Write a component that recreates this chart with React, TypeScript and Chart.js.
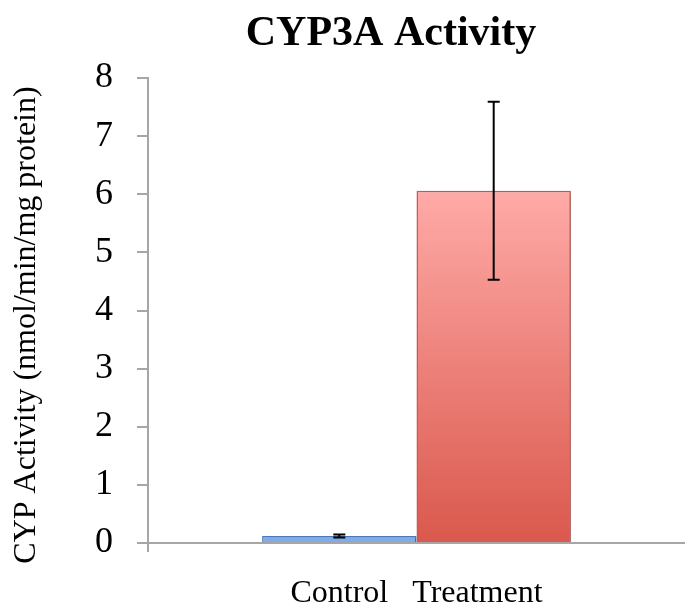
import React, { useEffect, useRef } from "react";
import { Chart, registerables } from "chart.js";
Chart.register(...registerables);

// ---- data ----
const categories = ["Control   Treatment"];
const seriesNames = ["Control", "Treatment"];
const controlValues = [0.12];
const treatmentValues = [6.06];
const controlErrors = [0.025];
const treatmentErrors = [1.53];
const yMin = 0;
const yMax = 8;
const yStep = 1;
const chartTitle = "CYP3A Activity";
const yAxisTitle = "CYP Activity (nmol/min/mg protein)";

const FONT = '"Liberation Serif", "Times New Roman", serif';
const AXIS_GRAY = "#A6A6A6";

export default function App() {
  const canvasRef = useRef<HTMLCanvasElement | null>(null);

  useEffect(() => {
    const canvas = canvasRef.current;
    if (!canvas) return;

    const errorsByDataset = [controlErrors, treatmentErrors];

    const shadowPlugin = {
      id: "barShadow",
      beforeDatasetsDraw(chart: any) {
        const ctx = chart.ctx;
        ctx.save();
        ctx.shadowColor = "rgba(0,0,0,0.28)";
        ctx.shadowBlur = 4;
        ctx.shadowOffsetX = 2;
        ctx.shadowOffsetY = 1;
      },
      afterDatasetsDraw(chart: any) {
        chart.ctx.restore();
      },
    };

    const errorBarPlugin = {
      id: "errorBars",
      afterDraw(chart: any) {
        const ctx = chart.ctx;
        const yScale = chart.scales.y;
        ctx.save();
        ctx.strokeStyle = "#000000";
        ctx.lineWidth = 2;
        chart.data.datasets.forEach((ds: any, di: number) => {
          const meta = chart.getDatasetMeta(di);
          const errs = errorsByDataset[di];
          meta.data.forEach((bar: any, i: number) => {
            const v = ds.data[i];
            const e = errs[i];
            const x = bar.x;
            const yTop = yScale.getPixelForValue(v + e);
            const yBot = yScale.getPixelForValue(v - e);
            const cap = 6;
            ctx.beginPath();
            ctx.moveTo(x, yTop);
            ctx.lineTo(x, yBot);
            ctx.moveTo(x - cap, yTop);
            ctx.lineTo(x + cap, yTop);
            ctx.moveTo(x - cap, yBot);
            ctx.lineTo(x + cap, yBot);
            ctx.stroke();
          });
        });
        ctx.restore();
      },
    };

    const titlesPlugin = {
      id: "offsetTitles",
      afterDraw(chart: any) {
        const ctx = chart.ctx;
        ctx.save();
        ctx.fillStyle = "#000000";
        ctx.font = `bold 42px ${FONT}`;
        ctx.textAlign = "center";
        ctx.textBaseline = "alphabetic";
        ctx.fillText(chartTitle, 391, 45);
        ctx.restore();

        ctx.save();
        ctx.fillStyle = "#000000";
        ctx.font = `32px ${FONT}`;
        ctx.textAlign = "center";
        ctx.textBaseline = "middle";
        ctx.translate(27, 325);
        ctx.rotate(-Math.PI / 2);
        ctx.fillText(yAxisTitle, 0, 0);
        ctx.restore();
      },
    };

    const redGradient = (context: any) => {
      const chart = context.chart;
      const ys = chart.scales && chart.scales.y;
      if (!ys || context.raw === undefined) return "#EE7F77";
      const top = ys.getPixelForValue(context.raw);
      const bottom = ys.getPixelForValue(0);
      if (!isFinite(top) || !isFinite(bottom) || top === bottom) return "#EE7F77";
      const g = chart.ctx.createLinearGradient(0, top, 0, bottom);
      g.addColorStop(0, "#FFAAA7");
      g.addColorStop(1, "#DA584D");
      return g;
    };

    const chart = new Chart(canvas, {
      type: "bar",
      data: {
        labels: categories,
        datasets: [
          {
            label: seriesNames[0],
            data: controlValues,
            backgroundColor: "#80ABE6",
            borderColor: "#4E7EC1",
            borderWidth: 1.5,
            categoryPercentage: 0.575,
            barPercentage: 1,
          },
          {
            label: seriesNames[1],
            data: treatmentValues,
            backgroundColor: redGradient,
            borderColor: "#CD5E58",
            borderWidth: 1.5,
            categoryPercentage: 0.575,
            barPercentage: 1,
          },
        ],
      },
      options: {
        animation: false,
        responsive: false,
        maintainAspectRatio: false,
        layout: { padding: { top: 78, right: 0, bottom: 0, left: 0 } },
        plugins: {
          legend: { display: false },
          title: { display: false },
          tooltip: { enabled: false },
        },
        scales: {
          x: {
            type: "category",
            offset: true,
            grid: {
              display: true,
              offset: true,
              drawOnChartArea: false,
              drawTicks: true,
              tickLength: 9,
              color: (ctx: any) => (ctx.type === "tick" && ctx.index === 0 ? AXIS_GRAY : "rgba(0,0,0,0)"),
              lineWidth: 2,
            },
            border: { display: true, color: AXIS_GRAY, width: 2 },
            ticks: {
              color: "#000000",
              font: { family: FONT, size: 32 },
              padding: 22,
              maxRotation: 0,
            },
            afterFit(scale: any) {
              scale.height = 62;
            },
          },
          y: {
            min: yMin,
            max: yMax,
            grid: {
              display: true,
              drawOnChartArea: false,
              drawTicks: true,
              tickLength: 11,
              color: AXIS_GRAY,
              lineWidth: 2,
            },
            border: { display: true, color: AXIS_GRAY, width: 2 },
            ticks: {
              stepSize: yStep,
              color: "#000000",
              font: { family: FONT, size: 36 },
              padding: 24,
            },
            title: { display: false },
            afterFit(scale: any) {
              scale.width = 148;
            },
          },
        },
      },
      plugins: [shadowPlugin, errorBarPlugin, titlesPlugin],
    } as any);

    return () => {
      chart.destroy();
    };
  }, []);

  return (
    <div style={{ position: "absolute", left: 0, top: 0, width: 685, height: 605, background: "#ffffff" }}>
      <canvas ref={canvasRef} width={685} height={605} style={{ display: "block" }} />
    </div>
  );
}
